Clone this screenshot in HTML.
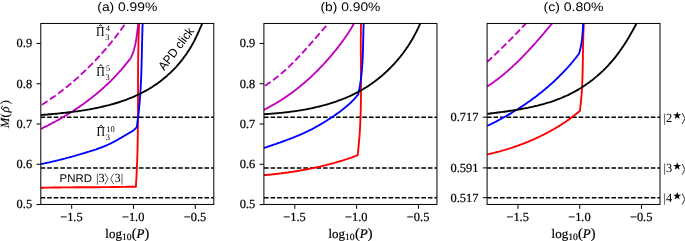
<!DOCTYPE html>
<html><head><meta charset="utf-8"><style>
html,body{margin:0;padding:0;background:#fff;}
body{width:685px;height:241px;overflow:hidden;font-family:"Liberation Sans",sans-serif;}
svg{display:block;will-change:transform;}
</style></head><body>
<svg xmlns="http://www.w3.org/2000/svg" width="685" height="241" viewBox="0 0 685 241" text-rendering="geometricPrecision"><defs><clipPath id="c0"><rect x="40.80" y="23.30" width="173.00" height="181.25"/></clipPath><clipPath id="c1"><rect x="263.90" y="23.30" width="173.05" height="181.25"/></clipPath><clipPath id="c2"><rect x="487.10" y="23.30" width="172.90" height="181.25"/></clipPath></defs><rect width="685" height="241" fill="#fff"/><g clip-path="url(#c0)"><path d="M40.80,117.15 H213.80" stroke="#000" stroke-width="1.45" stroke-dasharray="4.6 1.955" stroke-dashoffset="0.17" fill="none"/><path d="M40.80,167.90 H213.80" stroke="#000" stroke-width="1.45" stroke-dasharray="4.6 1.955" stroke-dashoffset="0.17" fill="none"/><path d="M40.80,197.70 H213.80" stroke="#000" stroke-width="1.45" stroke-dasharray="4.6 1.955" stroke-dashoffset="0.17" fill="none"/><path d="M40.8,187.7 41.6,187.7 42.4,187.7 43.2,187.7 44.0,187.7 44.8,187.6 45.6,187.6 46.4,187.6 47.2,187.6 48.0,187.6 48.8,187.6 49.6,187.6 50.4,187.6 51.2,187.6 52.0,187.5 52.8,187.5 53.6,187.5 54.4,187.5 55.2,187.5 56.0,187.5 56.7,187.5 57.5,187.5 58.3,187.5 59.1,187.5 59.9,187.5 60.7,187.5 61.5,187.4 62.3,187.4 63.1,187.4 63.9,187.4 64.7,187.4 65.5,187.4 66.3,187.4 67.1,187.4 67.9,187.4 68.7,187.4 69.5,187.4 70.3,187.4 71.1,187.4 71.9,187.4 72.7,187.4 73.5,187.3 74.3,187.3 75.1,187.3 75.9,187.3 76.7,187.3 77.5,187.3 78.3,187.3 79.1,187.3 79.9,187.3 80.7,187.3 81.5,187.3 82.3,187.3 83.1,187.3 83.9,187.3 84.7,187.3 85.5,187.3 86.3,187.3 87.1,187.2 87.9,187.2 88.6,187.2 89.4,187.2 90.2,187.2 91.0,187.2 91.8,187.2 92.6,187.2 93.4,187.2 94.2,187.2 95.0,187.2 95.8,187.2 96.6,187.2 97.4,187.2 98.2,187.2 99.0,187.2 99.8,187.2 100.6,187.1 101.4,187.1 102.2,187.1 103.0,187.1 103.8,187.1 104.6,187.1 105.4,187.1 106.2,187.1 107.0,187.1 107.8,187.1 108.6,187.1 109.4,187.1 110.2,187.1 111.0,187.0 111.8,187.0 112.6,187.0 113.4,187.0 114.2,187.0 115.0,187.0 115.8,187.0 116.6,187.0 117.4,187.0 118.2,187.0 119.0,187.0 119.8,186.9 120.5,186.9 121.3,186.9 122.1,186.9 122.9,186.9 123.7,186.9 124.5,186.9 125.3,186.9 126.1,186.9 126.9,186.8 127.7,186.8 128.5,186.8 129.3,186.8 130.1,186.8 130.9,186.8 131.7,186.8 132.5,186.8 133.3,186.7 134.1,186.7 134.9,186.7 135.7,186.7 L135.9,186.7 136.0,185.3 136.0,183.9 136.1,182.5 136.2,181.1 136.3,179.7 136.4,178.3 136.5,176.9 136.5,175.5 136.6,174.1 136.7,172.7 136.7,171.3 136.8,169.9 136.9,168.5 136.9,167.1 137.0,165.7 137.0,164.3 137.1,162.9 137.2,161.5 137.2,160.1 137.2,158.7 137.3,157.3 137.3,155.9 137.4,154.5 137.4,153.1 137.5,151.7 137.5,150.3 137.5,148.9 137.6,147.5 137.6,146.1 137.6,144.7 137.6,143.3 137.7,141.9 137.7,140.5 137.7,139.1 137.7,137.7 137.8,136.3 137.8,134.9 137.8,133.5 137.8,132.1 137.8,130.7 137.9,129.3 137.9,127.9 137.9,126.5 137.9,125.1 137.9,123.7 137.9,122.3 137.9,120.9 137.9,119.5 137.9,118.1 137.9,116.7 138.0,115.3 138.0,113.9 138.0,112.5 138.0,111.1 138.0,109.7 138.0,108.3 138.0,106.9 138.0,105.5 138.0,104.1 138.0,102.7 138.0,101.3 138.0,99.9 138.0,98.5 138.0,97.1 138.0,95.7 138.0,94.3 138.0,92.9 138.0,91.5 138.0,90.1 138.0,88.7 138.0,87.3 138.0,85.9 138.0,84.5 138.0,83.1 138.0,81.7 138.0,80.3 138.0,78.8 138.0,77.4 138.0,76.0 138.1,74.6 138.1,73.2 138.1,71.8 138.1,70.4 138.1,69.0 138.1,67.6 138.1,66.2 138.1,64.8 138.1,63.4 138.1,62.0 138.2,60.6 138.2,59.2 138.2,57.8 138.2,56.4 138.2,55.0 138.3,53.6 138.3,52.2 138.3,50.8 138.3,49.4 138.4,48.0 138.4,46.6 138.4,45.2 138.4,43.8 138.5,42.4 138.5,41.0 138.5,39.6 138.6,38.2 138.6,36.8 138.7,35.4 138.7,34.0 138.8,32.6 138.8,31.2 138.9,29.8 138.9,28.4 139.0,27.0 139.0,25.6 139.1,24.2 139.1,22.8 139.2,21.4 139.3,20.0" stroke="#ff0000" stroke-width="1.87" fill="none" stroke-linejoin="round"/><path d="M40.8,164.1 41.7,163.9 42.5,163.8 43.4,163.6 44.2,163.4 45.1,163.2 45.9,163.0 46.8,162.9 47.6,162.7 48.5,162.5 49.3,162.3 50.2,162.1 51.0,161.9 51.9,161.7 52.7,161.5 53.6,161.3 54.4,161.1 55.3,160.9 56.1,160.7 57.0,160.5 57.8,160.3 58.7,160.1 59.5,159.9 60.3,159.7 61.2,159.5 62.0,159.3 62.9,159.0 63.7,158.8 64.6,158.6 65.4,158.4 66.2,158.2 67.1,157.9 67.9,157.7 68.8,157.5 69.6,157.3 70.4,157.0 71.3,156.8 72.1,156.6 72.9,156.3 73.8,156.1 74.6,155.9 75.5,155.6 76.3,155.4 77.1,155.2 78.0,154.9 78.8,154.7 79.6,154.4 80.5,154.2 81.3,153.9 82.1,153.7 83.0,153.5 83.8,153.2 84.6,153.0 85.5,152.7 86.3,152.5 87.1,152.2 88.0,151.9 88.8,151.7 89.6,151.4 90.5,151.2 91.3,150.9 92.1,150.6 93.0,150.4 93.8,150.1 94.6,149.8 95.4,149.6 96.3,149.3 97.1,149.0 97.9,148.7 98.7,148.4 99.5,148.1 100.3,147.8 101.2,147.5 102.0,147.2 102.8,146.9 103.6,146.6 104.4,146.2 105.2,145.9 106.0,145.6 106.8,145.2 107.6,144.9 108.4,144.5 109.1,144.1 109.9,143.8 110.7,143.4 111.5,143.0 112.3,142.6 113.0,142.2 113.8,141.8 114.6,141.4 115.3,141.0 116.1,140.6 116.9,140.2 117.6,139.7 118.4,139.3 119.1,138.9 119.9,138.4 120.6,138.0 121.4,137.6 122.1,137.1 122.9,136.7 123.6,136.3 124.4,135.8 125.1,135.4 125.9,134.9 126.6,134.5 127.4,134.0 128.1,133.6 128.9,133.2 129.6,132.7 130.4,132.3 131.1,131.8 131.9,131.4 132.6,130.9 133.3,130.4 134.0,129.9 134.7,129.3 135.3,128.8 135.9,128.1 136.5,127.5 L136.7,127.4 136.8,126.5 136.9,125.6 137.1,124.7 137.2,123.8 137.3,122.9 137.5,122.1 137.6,121.2 137.7,120.3 137.8,119.4 137.9,118.5 138.0,117.6 138.2,116.7 138.3,115.8 138.4,114.9 138.5,114.0 138.6,113.1 138.7,112.2 138.8,111.3 138.9,110.4 139.0,109.5 139.1,108.6 139.1,107.7 139.2,106.8 139.3,105.9 139.4,105.0 139.5,104.1 139.6,103.2 139.6,102.3 139.7,101.4 139.8,100.5 139.9,99.6 139.9,98.7 140.0,97.8 140.1,96.9 140.1,96.0 140.2,95.1 140.3,94.2 140.3,93.3 140.4,92.4 140.4,91.5 140.5,90.6 140.5,89.7 140.6,88.8 140.6,87.8 140.7,86.9 140.7,86.0 140.8,85.1 140.8,84.2 140.9,83.3 140.9,82.4 141.0,81.5 141.0,80.6 141.0,79.7 141.1,78.8 141.1,77.9 141.2,77.0 141.2,76.1 141.2,75.2 141.3,74.3 141.3,73.4 141.3,72.5 141.4,71.6 141.4,70.7 141.4,69.8 141.4,68.9 141.5,68.0 141.5,67.0 141.5,66.1 141.6,65.2 141.6,64.3 141.6,63.4 141.6,62.5 141.6,61.6 141.7,60.7 141.7,59.8 141.7,58.9 141.7,58.0 141.8,57.1 141.8,56.2 141.8,55.3 141.8,54.4 141.8,53.5 141.9,52.6 141.9,51.7 141.9,50.8 141.9,49.8 141.9,48.9 142.0,48.0 142.0,47.1 142.0,46.2 142.0,45.3 142.0,44.4 142.1,43.5 142.1,42.6 142.1,41.7 142.1,40.8 142.2,39.9 142.2,39.0 142.2,38.1 142.2,37.2 142.2,36.3 142.3,35.4 142.3,34.5 142.3,33.6 142.3,32.7 142.4,31.8 142.4,30.8 142.4,29.9 142.4,29.0 142.5,28.1 142.5,27.2 142.5,26.3 142.6,25.4 142.6,24.5 142.6,23.6 142.6,22.7 142.7,21.8 142.7,20.9 142.8,20.0" stroke="#0000ff" stroke-width="1.87" fill="none" stroke-linejoin="round"/><path d="M40.8,128.9 41.7,128.5 42.5,128.1 43.4,127.6 44.2,127.2 45.1,126.8 46.0,126.4 46.8,125.9 47.7,125.5 48.5,125.1 49.4,124.6 50.2,124.2 51.1,123.7 51.9,123.3 52.8,122.8 53.6,122.4 54.5,121.9 55.3,121.5 56.2,121.0 57.0,120.5 57.9,120.1 58.7,119.6 59.5,119.1 60.4,118.7 61.2,118.2 62.0,117.7 62.9,117.2 63.7,116.7 64.5,116.2 65.3,115.7 66.2,115.3 67.0,114.8 67.8,114.3 68.6,113.7 69.4,113.2 70.3,112.7 71.1,112.2 71.9,111.7 72.7,111.2 73.5,110.7 74.3,110.1 75.1,109.6 75.9,109.1 76.7,108.6 77.5,108.0 78.3,107.5 79.1,106.9 79.9,106.4 80.7,105.8 81.5,105.3 82.2,104.7 83.0,104.2 83.8,103.6 84.6,103.1 85.4,102.5 86.1,101.9 86.9,101.4 87.7,100.8 88.4,100.2 89.2,99.6 90.0,99.0 90.7,98.5 91.5,97.9 92.2,97.3 93.0,96.7 93.7,96.1 94.5,95.5 95.2,94.9 96.0,94.3 96.7,93.7 97.4,93.0 98.2,92.4 98.9,91.8 99.6,91.2 100.3,90.6 101.1,89.9 101.8,89.3 102.5,88.7 103.2,88.0 103.9,87.4 104.6,86.7 105.3,86.1 106.0,85.4 106.7,84.8 107.4,84.1 108.1,83.5 108.8,82.8 109.5,82.1 110.2,81.5 110.9,80.8 111.6,80.1 112.2,79.4 112.9,78.7 113.6,78.1 114.3,77.4 114.9,76.7 115.6,76.0 116.2,75.3 116.9,74.6 117.5,73.9 118.2,73.2 118.8,72.4 119.5,71.7 120.1,71.0 120.8,70.3 121.4,69.6 122.0,68.8 122.6,68.1 123.3,67.4 123.9,66.6 124.5,65.9 125.1,65.1 125.7,64.4 126.3,63.6 126.9,62.9 127.5,62.1 128.1,61.4 128.7,60.6 129.3,59.8 129.9,59.1 L130.0,59.2 130.2,58.9 130.4,58.6 130.5,58.3 130.7,58.0 130.8,57.7 131.0,57.4 131.1,57.1 131.3,56.8 131.4,56.5 131.6,56.2 131.7,55.8 131.8,55.5 132.0,55.2 132.1,54.9 132.2,54.6 132.4,54.3 132.5,54.0 132.6,53.7 132.7,53.3 132.9,53.0 133.0,52.7 133.1,52.4 133.2,52.1 133.3,51.7 133.4,51.4 133.5,51.1 133.6,50.8 133.7,50.5 133.8,50.1 133.9,49.8 134.0,49.5 134.1,49.2 134.2,48.8 134.3,48.5 134.4,48.2 134.5,47.9 134.6,47.5 134.7,47.2 134.7,46.9 134.8,46.6 134.9,46.2 135.0,45.9 135.1,45.6 135.1,45.2 135.2,44.9 135.3,44.6 135.3,44.2 135.4,43.9 135.5,43.6 135.6,43.2 135.6,42.9 135.7,42.6 135.7,42.2 135.8,41.9 135.9,41.6 135.9,41.2 136.0,40.9 136.0,40.6 136.1,40.2 136.2,39.9 136.2,39.6 136.3,39.2 136.3,38.9 136.4,38.6 136.4,38.2 136.5,37.9 136.5,37.5 136.6,37.2 136.6,36.9 136.7,36.5 136.7,36.2 136.8,35.9 136.8,35.5 136.9,35.2 136.9,34.8 136.9,34.5 137.0,34.2 137.0,33.8 137.1,33.5 137.1,33.1 137.2,32.8 137.2,32.5 137.2,32.1 137.3,31.8 137.3,31.5 137.4,31.1 137.4,30.8 137.4,30.4 137.5,30.1 137.5,29.8 137.6,29.4 137.6,29.1 137.6,28.7 137.7,28.4 137.7,28.1 137.8,27.7 137.8,27.4 137.9,27.1 137.9,26.7 137.9,26.4 138.0,26.0 138.0,25.7 138.1,25.4 138.1,25.0 138.1,24.7 138.2,24.4 138.2,24.0 138.3,23.7 138.3,23.4 138.4,23.0 138.4,22.7 138.5,22.4 138.5,22.0 138.6,21.7 138.6,21.4 138.7,21.0 138.7,20.7 138.8,20.4 138.8,20.0" stroke="#bf00bf" stroke-width="1.87" fill="none" stroke-linejoin="round"/><path d="M40.9,105.3 41.8,104.8 42.6,104.3 43.5,103.7 44.3,103.2 45.2,102.6 46.0,102.0 46.9,101.5 47.7,100.9 48.6,100.3 49.4,99.8 50.3,99.2 51.1,98.6 51.9,98.0 52.8,97.4 53.6,96.9 54.4,96.3 55.3,95.7 56.1,95.1 56.9,94.5 57.7,93.9 58.6,93.3 59.4,92.6 60.2,92.0 61.0,91.4 61.8,90.8 62.6,90.2 63.4,89.5 64.2,88.9 65.0,88.3 65.8,87.7 66.6,87.0 67.4,86.4 68.2,85.7 69.0,85.1 69.8,84.4 70.6,83.8 71.3,83.1 72.1,82.5 72.9,81.8 73.7,81.1 74.5,80.5 75.2,79.8 76.0,79.1 76.8,78.4 77.5,77.8 78.3,77.1 79.0,76.4 79.8,75.7 80.5,75.0 81.3,74.3 82.0,73.6 82.8,72.9 83.5,72.2 84.3,71.5 85.0,70.8 85.8,70.1 86.5,69.4 87.2,68.7 88.0,68.0 88.7,67.3 89.4,66.5 90.1,65.8 90.8,65.1 91.6,64.4 92.3,63.6 93.0,62.9 93.7,62.2 94.4,61.4 95.1,60.7 95.8,60.0 96.5,59.2 97.2,58.5 97.9,57.7 98.6,57.0 99.3,56.2 100.0,55.5 100.7,54.7 101.3,53.9 102.0,53.2 102.7,52.4 103.4,51.6 104.0,50.9 104.7,50.1 105.4,49.3 106.0,48.6 106.7,47.8 107.4,47.0 108.0,46.2 108.7,45.4 109.3,44.6 110.0,43.9 110.6,43.1 111.3,42.3 111.9,41.5 112.5,40.7 113.2,39.9 113.8,39.1 114.4,38.3 115.1,37.5 115.7,36.7 116.3,35.9 116.9,35.1 117.6,34.3 118.2,33.4 118.8,32.6 119.4,31.8 120.0,31.0 120.6,30.2 121.2,29.4 121.8,28.5 122.4,27.7 123.0,26.9 123.6,26.1 124.2,25.2 124.8,24.4 125.3,23.6 125.9,22.7 126.5,21.9 127.1,21.1" stroke="#bf00bf" stroke-width="1.87" fill="none" stroke-linejoin="round" stroke-dasharray="6.9 3.0" stroke-dashoffset="-1.00"/><path d="M40.9,115.0 42.5,114.9 44.2,114.7 45.8,114.6 47.5,114.5 49.1,114.3 50.8,114.2 52.5,114.0 54.1,113.9 55.8,113.7 57.5,113.6 59.2,113.4 60.8,113.2 62.5,113.0 64.2,112.9 65.9,112.7 67.6,112.5 69.3,112.3 71.0,112.1 72.7,111.9 74.4,111.6 76.1,111.4 77.8,111.2 79.5,110.9 81.2,110.7 82.9,110.4 84.6,110.2 86.3,109.9 88.0,109.6 89.7,109.3 91.3,109.0 93.0,108.7 94.7,108.3 96.4,108.0 98.1,107.7 99.8,107.3 101.4,106.9 103.1,106.5 104.8,106.1 106.5,105.7 108.1,105.3 109.8,104.9 111.4,104.4 113.1,104.0 114.7,103.5 116.3,103.0 118.0,102.5 119.6,102.0 121.2,101.4 122.8,100.9 124.4,100.3 126.0,99.8 127.6,99.2 129.2,98.5 130.7,97.9 132.3,97.3 133.9,96.6 135.4,95.9 137.0,95.2 138.5,94.5 140.0,93.8 141.5,93.0 143.0,92.2 144.5,91.4 146.0,90.6 147.4,89.8 148.9,89.0 150.3,88.1 151.8,87.2 153.2,86.3 154.6,85.3 156.0,84.4 157.4,83.4 158.7,82.4 160.1,81.4 161.4,80.4 162.8,79.3 164.1,78.3 165.4,77.2 166.7,76.1 167.9,74.9 169.2,73.8 170.4,72.6 171.6,71.5 172.8,70.3 174.0,69.1 175.2,67.8 176.4,66.6 177.5,65.3 178.6,64.0 179.7,62.8 180.8,61.4 181.9,60.1 182.9,58.8 183.9,57.4 184.9,56.0 185.9,54.7 186.9,53.3 187.8,51.8 188.8,50.4 189.7,49.0 190.6,47.5 191.4,46.1 192.3,44.6 193.1,43.1 193.9,41.6 194.7,40.0 195.4,38.5 196.2,37.0 196.9,35.4 197.6,33.9 198.3,32.3 199.0,30.8 199.7,29.2 200.4,27.7 201.1,26.1 201.7,24.5 202.4,23.0 203.1,21.4 203.7,19.9" stroke="#000000" stroke-width="1.87" fill="none" stroke-linejoin="round"/></g>
<rect x="40.80" y="23.45" width="173.00" height="181.00" fill="none" stroke="#000" stroke-width="1.00"/>
<path d="M71.69,204.55 V208.85" stroke="#000" stroke-width="1.00"/>
<text x="71.39" y="221.10" font-family="Liberation Serif" stroke="#000" stroke-width="0.22" font-size="12.40" text-anchor="middle">−1.5</text>
<path d="M133.48,204.55 V208.85" stroke="#000" stroke-width="1.00"/>
<text x="133.18" y="221.10" font-family="Liberation Serif" stroke="#000" stroke-width="0.22" font-size="12.40" text-anchor="middle">−1.0</text>
<path d="M195.26,204.55 V208.85" stroke="#000" stroke-width="1.00"/>
<text x="194.96" y="221.10" font-family="Liberation Serif" stroke="#000" stroke-width="0.22" font-size="12.40" text-anchor="middle">−0.5</text>
<text x="127.30000000000001" y="237.9" font-family="Liberation Serif" font-size="13.0" text-anchor="middle" stroke="#000" stroke-width="0.22">log<tspan font-size="9.6" dy="2.5">10</tspan><tspan dy="-2.5" font-size="14.4" dx="0.3">(</tspan><tspan font-style="italic">P</tspan><tspan font-size="14.4">)</tspan></text>
<text x="127.30" y="11.30" font-family="Liberation Sans" font-size="12.40" text-anchor="middle" textLength="60.00" lengthAdjust="spacingAndGlyphs">(a) 0.99%</text>
<path d="M36.50,204.55 H40.80" stroke="#000" stroke-width="1.00"/>
<text x="32.10" y="208.45" font-family="Liberation Serif" stroke="#000" stroke-width="0.22" font-size="12.40" text-anchor="end">0.5</text>
<path d="M36.50,164.27 H40.80" stroke="#000" stroke-width="1.00"/>
<text x="32.10" y="168.17" font-family="Liberation Serif" stroke="#000" stroke-width="0.22" font-size="12.40" text-anchor="end">0.6</text>
<path d="M36.50,123.99 H40.80" stroke="#000" stroke-width="1.00"/>
<text x="32.10" y="127.89" font-family="Liberation Serif" stroke="#000" stroke-width="0.22" font-size="12.40" text-anchor="end">0.7</text>
<path d="M36.50,83.72 H40.80" stroke="#000" stroke-width="1.00"/>
<text x="32.10" y="87.62" font-family="Liberation Serif" stroke="#000" stroke-width="0.22" font-size="12.40" text-anchor="end">0.8</text>
<path d="M36.50,43.44 H40.80" stroke="#000" stroke-width="1.00"/>
<text x="32.10" y="47.34" font-family="Liberation Serif" stroke="#000" stroke-width="0.22" font-size="12.40" text-anchor="end">0.9</text>
<g clip-path="url(#c1)"><path d="M263.90,117.15 H436.95" stroke="#000" stroke-width="1.45" stroke-dasharray="4.6 1.955" stroke-dashoffset="-0.13" fill="none"/><path d="M263.90,167.90 H436.95" stroke="#000" stroke-width="1.45" stroke-dasharray="4.6 1.955" stroke-dashoffset="-0.13" fill="none"/><path d="M263.90,197.70 H436.95" stroke="#000" stroke-width="1.45" stroke-dasharray="4.6 1.955" stroke-dashoffset="-0.13" fill="none"/><path d="M263.9,175.2 264.7,175.1 265.5,175.0 266.3,175.0 267.1,174.9 267.9,174.8 268.7,174.7 269.5,174.7 270.3,174.6 271.1,174.5 271.9,174.4 272.7,174.3 273.5,174.2 274.3,174.2 275.1,174.1 275.9,174.0 276.7,173.9 277.5,173.8 278.3,173.7 279.1,173.6 279.9,173.5 280.7,173.4 281.5,173.3 282.3,173.2 283.1,173.1 283.9,173.0 284.7,172.9 285.5,172.8 286.3,172.7 287.1,172.6 287.9,172.5 288.7,172.3 289.5,172.2 290.3,172.1 291.1,172.0 291.9,171.9 292.7,171.8 293.5,171.6 294.3,171.5 295.1,171.4 295.9,171.3 296.7,171.1 297.5,171.0 298.3,170.9 299.1,170.7 299.9,170.6 300.6,170.5 301.4,170.3 302.2,170.2 303.0,170.0 303.8,169.9 304.6,169.7 305.4,169.6 306.2,169.5 307.0,169.3 307.8,169.1 308.6,169.0 309.4,168.8 310.1,168.7 310.9,168.5 311.7,168.4 312.5,168.2 313.3,168.0 314.1,167.9 314.9,167.7 315.7,167.5 316.4,167.4 317.2,167.2 318.0,167.0 318.8,166.8 319.6,166.6 320.4,166.5 321.2,166.3 321.9,166.1 322.7,165.9 323.5,165.7 324.3,165.5 325.1,165.3 325.9,165.1 326.6,164.9 327.4,164.7 328.2,164.5 329.0,164.3 329.8,164.1 330.5,163.9 331.3,163.7 332.1,163.5 332.9,163.3 333.6,163.1 334.4,162.9 335.2,162.6 336.0,162.4 336.7,162.2 337.5,162.0 338.3,161.7 339.1,161.5 339.8,161.3 340.6,161.0 341.4,160.8 342.1,160.6 342.9,160.3 343.7,160.1 344.4,159.8 345.2,159.6 346.0,159.4 346.7,159.1 347.5,158.9 348.3,158.6 349.0,158.3 349.8,158.1 350.6,157.8 351.3,157.6 352.1,157.3 352.8,157.0 353.6,156.7 354.4,156.5 355.1,156.2 355.9,155.9 356.6,155.6 357.4,155.4 L357.6,155.4 357.7,154.3 357.9,153.2 358.0,152.0 358.1,150.9 358.2,149.8 358.4,148.6 358.5,147.5 358.6,146.4 358.7,145.2 358.8,144.1 358.9,143.0 359.0,141.8 359.1,140.7 359.2,139.6 359.3,138.4 359.4,137.3 359.5,136.2 359.6,135.0 359.6,133.9 359.7,132.8 359.8,131.6 359.9,130.5 359.9,129.3 360.0,128.2 360.1,127.1 360.1,125.9 360.2,124.8 360.2,123.7 360.3,122.5 360.3,121.4 360.4,120.3 360.4,119.1 360.5,118.0 360.5,116.8 360.6,115.7 360.6,114.6 360.6,113.4 360.7,112.3 360.7,111.2 360.7,110.0 360.8,108.9 360.8,107.7 360.8,106.6 360.8,105.5 360.9,104.3 360.9,103.2 360.9,102.0 360.9,100.9 360.9,99.8 360.9,98.6 361.0,97.5 361.0,96.3 361.0,95.2 361.0,94.1 361.0,92.9 361.0,91.8 361.0,90.6 361.0,89.5 361.0,88.4 361.0,87.2 361.0,86.1 361.0,84.9 361.0,83.8 361.0,82.7 361.0,81.5 361.0,80.4 361.0,79.2 361.0,78.1 361.0,77.0 361.0,75.8 361.0,74.7 361.0,73.5 361.0,72.4 361.0,71.3 360.9,70.1 360.9,69.0 360.9,67.8 360.9,66.7 360.9,65.6 360.9,64.4 360.9,63.3 360.9,62.1 360.9,61.0 360.9,59.9 360.9,58.7 360.9,57.6 360.9,56.4 360.9,55.3 360.8,54.2 360.8,53.0 360.8,51.9 360.8,50.7 360.8,49.6 360.8,48.5 360.8,47.3 360.8,46.2 360.8,45.0 360.8,43.9 360.8,42.8 360.8,41.6 360.8,40.5 360.8,39.3 360.8,38.2 360.8,37.1 360.8,35.9 360.9,34.8 360.9,33.7 360.9,32.5 360.9,31.4 360.9,30.2 360.9,29.1 360.9,28.0 360.9,26.8 361.0,25.7 361.0,24.6 361.0,23.4 361.0,22.3 361.1,21.1 361.1,20.0" stroke="#ff0000" stroke-width="1.87" fill="none" stroke-linejoin="round"/><path d="M263.9,148.0 264.8,147.7 265.7,147.4 266.5,147.1 267.4,146.8 268.3,146.5 269.2,146.2 270.0,145.9 270.9,145.6 271.8,145.3 272.7,145.0 273.5,144.7 274.4,144.4 275.3,144.1 276.2,143.8 277.0,143.5 277.9,143.2 278.8,142.9 279.7,142.6 280.5,142.3 281.4,142.0 282.3,141.7 283.2,141.3 284.0,141.0 284.9,140.7 285.8,140.4 286.6,140.1 287.5,139.7 288.4,139.4 289.2,139.1 290.1,138.8 291.0,138.4 291.8,138.1 292.7,137.8 293.6,137.4 294.4,137.1 295.3,136.7 296.1,136.4 297.0,136.0 297.8,135.7 298.7,135.3 299.5,135.0 300.4,134.6 301.2,134.2 302.1,133.9 302.9,133.5 303.8,133.1 304.6,132.7 305.5,132.3 306.3,131.9 307.1,131.5 308.0,131.1 308.8,130.7 309.6,130.3 310.4,129.9 311.3,129.5 312.1,129.1 312.9,128.7 313.7,128.2 314.5,127.8 315.3,127.3 316.1,126.9 316.9,126.4 317.7,126.0 318.5,125.5 319.3,125.1 320.1,124.6 320.9,124.1 321.7,123.7 322.5,123.2 323.3,122.7 324.1,122.2 324.9,121.7 325.7,121.3 326.5,120.8 327.2,120.3 328.0,119.8 328.8,119.3 329.6,118.8 330.3,118.2 331.1,117.7 331.9,117.2 332.6,116.7 333.4,116.2 334.2,115.7 334.9,115.1 335.7,114.6 336.5,114.1 337.2,113.5 338.0,113.0 338.7,112.5 339.5,111.9 340.2,111.4 341.0,110.8 341.7,110.2 342.4,109.7 343.2,109.1 343.9,108.5 344.6,108.0 345.3,107.4 346.0,106.8 346.7,106.2 347.5,105.6 348.1,105.0 348.8,104.4 349.5,103.8 350.2,103.1 350.9,102.5 351.5,101.9 352.2,101.2 352.8,100.6 353.5,99.9 354.1,99.2 354.7,98.5 355.3,97.9 355.9,97.2 356.5,96.5 357.1,95.7 357.7,95.0 358.3,94.3 L358.2,94.2 358.3,93.6 358.5,93.0 358.6,92.4 358.8,91.7 358.9,91.1 359.0,90.5 359.1,89.9 359.3,89.3 359.4,88.7 359.5,88.1 359.6,87.4 359.7,86.8 359.8,86.2 359.9,85.6 360.0,85.0 360.1,84.4 360.2,83.7 360.3,83.1 360.4,82.5 360.5,81.9 360.6,81.3 360.7,80.7 360.8,80.0 360.9,79.4 361.0,78.8 361.0,78.2 361.1,77.6 361.2,76.9 361.3,76.3 361.3,75.7 361.4,75.1 361.5,74.4 361.5,73.8 361.6,73.2 361.7,72.6 361.7,72.0 361.8,71.3 361.8,70.7 361.9,70.1 361.9,69.5 362.0,68.8 362.0,68.2 362.1,67.6 362.1,67.0 362.2,66.3 362.2,65.7 362.3,65.1 362.3,64.5 362.4,63.8 362.4,63.2 362.4,62.6 362.5,62.0 362.5,61.3 362.5,60.7 362.6,60.1 362.6,59.5 362.6,58.8 362.7,58.2 362.7,57.6 362.7,57.0 362.7,56.3 362.8,55.7 362.8,55.1 362.8,54.5 362.8,53.8 362.9,53.2 362.9,52.6 362.9,51.9 362.9,51.3 362.9,50.7 363.0,50.1 363.0,49.4 363.0,48.8 363.0,48.2 363.0,47.6 363.0,46.9 363.1,46.3 363.1,45.7 363.1,45.0 363.1,44.4 363.1,43.8 363.1,43.2 363.2,42.5 363.2,41.9 363.2,41.3 363.2,40.7 363.2,40.0 363.2,39.4 363.2,38.8 363.2,38.1 363.3,37.5 363.3,36.9 363.3,36.3 363.3,35.6 363.3,35.0 363.3,34.4 363.3,33.8 363.4,33.1 363.4,32.5 363.4,31.9 363.4,31.3 363.4,30.6 363.4,30.0 363.5,29.4 363.5,28.8 363.5,28.1 363.5,27.5 363.5,26.9 363.6,26.2 363.6,25.6 363.6,25.0 363.6,24.4 363.7,23.7 363.7,23.1 363.7,22.5 363.7,21.9 363.8,21.3 363.8,20.6 363.8,20.0" stroke="#0000ff" stroke-width="1.87" fill="none" stroke-linejoin="round"/><path d="M263.8,109.8 264.8,109.3 265.8,108.8 266.7,108.3 267.7,107.8 268.7,107.3 269.7,106.7 270.7,106.2 271.6,105.7 272.6,105.2 273.5,104.6 274.5,104.1 275.4,103.5 276.4,103.0 277.3,102.4 278.3,101.9 279.2,101.3 280.1,100.7 281.1,100.1 282.0,99.5 282.9,98.9 283.8,98.3 284.7,97.7 285.6,97.1 286.5,96.5 287.4,95.9 288.3,95.3 289.2,94.6 290.1,94.0 291.0,93.4 291.9,92.7 292.8,92.1 293.6,91.4 294.5,90.8 295.4,90.1 296.2,89.4 297.1,88.8 297.9,88.1 298.8,87.4 299.6,86.7 300.5,86.0 301.3,85.3 302.2,84.6 303.0,83.9 303.8,83.2 304.7,82.5 305.5,81.8 306.3,81.1 307.1,80.4 307.9,79.6 308.7,78.9 309.6,78.2 310.4,77.4 311.2,76.7 311.9,75.9 312.7,75.2 313.5,74.4 314.3,73.7 315.1,72.9 315.9,72.1 316.7,71.4 317.4,70.6 318.2,69.8 319.0,69.0 319.7,68.2 320.5,67.4 321.2,66.7 322.0,65.9 322.8,65.1 323.5,64.3 324.2,63.5 325.0,62.6 325.7,61.8 326.5,61.0 327.2,60.2 327.9,59.4 328.6,58.6 329.4,57.7 330.1,56.9 330.8,56.1 331.5,55.2 332.2,54.4 332.9,53.5 333.6,52.7 334.3,51.8 335.0,51.0 335.7,50.1 336.4,49.3 337.1,48.4 337.7,47.6 338.4,46.7 339.1,45.8 339.7,44.9 340.4,44.1 341.1,43.2 341.7,42.3 342.4,41.4 343.0,40.5 343.6,39.7 344.3,38.8 344.9,37.9 345.5,37.0 346.1,36.1 346.8,35.2 347.4,34.3 348.0,33.4 348.6,32.4 349.2,31.5 349.7,30.6 350.3,29.7 350.9,28.8 351.5,27.8 352.0,26.9 352.6,26.0 353.1,25.0 353.6,24.1 354.1,23.1 354.6,22.1 355.0,21.1 355.5,20.1" stroke="#bf00bf" stroke-width="1.87" fill="none" stroke-linejoin="round"/><path d="M263.9,86.4 264.6,86.0 265.3,85.5 265.9,85.1 266.6,84.7 267.3,84.2 267.9,83.8 268.6,83.3 269.3,82.9 269.9,82.4 270.6,81.9 271.2,81.5 271.9,81.0 272.5,80.5 273.2,80.1 273.8,79.6 274.4,79.1 275.1,78.6 275.7,78.1 276.3,77.6 277.0,77.1 277.6,76.6 278.2,76.1 278.8,75.6 279.4,75.1 280.0,74.6 280.7,74.1 281.3,73.6 281.9,73.1 282.5,72.6 283.1,72.0 283.7,71.5 284.3,71.0 284.9,70.4 285.5,69.9 286.0,69.4 286.6,68.8 287.2,68.3 287.8,67.8 288.4,67.2 289.0,66.7 289.5,66.1 290.1,65.6 290.7,65.0 291.3,64.4 291.8,63.9 292.4,63.3 293.0,62.8 293.5,62.2 294.1,61.6 294.7,61.1 295.2,60.5 295.8,59.9 296.3,59.3 296.9,58.8 297.4,58.2 298.0,57.6 298.5,57.0 299.1,56.5 299.6,55.9 300.2,55.3 300.7,54.7 301.3,54.1 301.8,53.5 302.4,52.9 302.9,52.3 303.4,51.8 304.0,51.2 304.5,50.6 305.1,50.0 305.6,49.4 306.1,48.8 306.7,48.2 307.2,47.6 307.7,47.0 308.3,46.4 308.8,45.8 309.3,45.2 309.9,44.6 310.4,44.0 310.9,43.4 311.4,42.8 312.0,42.2 312.5,41.6 313.0,41.0 313.6,40.4 314.1,39.8 314.6,39.2 315.1,38.6 315.7,38.0 316.2,37.4 316.7,36.8 317.2,36.2 317.8,35.5 318.3,34.9 318.8,34.3 319.3,33.7 319.9,33.1 320.4,32.5 320.9,31.9 321.4,31.3 322.0,30.7 322.5,30.1 323.0,29.5 323.6,28.9 324.1,28.3 324.6,27.7 325.1,27.1 325.7,26.5 326.2,25.9 326.7,25.3 327.3,24.8 327.8,24.2 328.3,23.6 328.9,23.0 329.4,22.4 329.9,21.8 330.5,21.2 331.0,20.6 331.5,20.0" stroke="#bf00bf" stroke-width="1.87" fill="none" stroke-linejoin="round" stroke-dasharray="6.9 3.0" stroke-dashoffset="-1.20"/><path d="M264.0,114.2 265.6,114.1 267.2,114.0 268.8,113.9 270.4,113.8 272.0,113.6 273.6,113.5 275.2,113.4 276.9,113.2 278.5,113.1 280.1,112.9 281.7,112.8 283.4,112.6 285.0,112.4 286.6,112.2 288.3,112.1 289.9,111.8 291.5,111.6 293.2,111.4 294.8,111.2 296.5,110.9 298.1,110.7 299.7,110.4 301.4,110.2 303.0,109.9 304.6,109.6 306.3,109.3 307.9,109.0 309.5,108.7 311.1,108.3 312.8,108.0 314.4,107.6 316.0,107.2 317.6,106.9 319.2,106.5 320.8,106.1 322.4,105.7 324.0,105.2 325.6,104.8 327.2,104.3 328.8,103.9 330.4,103.4 332.0,102.9 333.5,102.4 335.1,101.8 336.7,101.3 338.2,100.7 339.8,100.2 341.3,99.6 342.8,99.0 344.4,98.4 345.9,97.8 347.4,97.1 348.9,96.5 350.4,95.8 351.9,95.1 353.3,94.4 354.8,93.7 356.3,92.9 357.7,92.2 359.1,91.4 360.6,90.6 362.0,89.8 363.4,89.0 364.8,88.1 366.2,87.3 367.6,86.4 368.9,85.5 370.3,84.6 371.6,83.7 372.9,82.7 374.3,81.8 375.6,80.8 376.9,79.8 378.2,78.8 379.4,77.8 380.7,76.7 381.9,75.7 383.2,74.6 384.4,73.5 385.6,72.4 386.8,71.3 388.0,70.2 389.2,69.0 390.3,67.9 391.5,66.7 392.6,65.5 393.7,64.3 394.8,63.1 395.9,61.9 397.0,60.7 398.1,59.4 399.1,58.1 400.2,56.9 401.2,55.6 402.2,54.3 403.2,53.0 404.2,51.6 405.1,50.3 406.1,49.0 407.0,47.6 408.0,46.2 408.9,44.8 409.7,43.4 410.6,42.0 411.5,40.6 412.3,39.2 413.1,37.8 413.9,36.3 414.7,34.9 415.5,33.4 416.3,31.9 417.0,30.4 417.8,28.9 418.5,27.4 419.2,25.9 419.8,24.4 420.5,22.9 421.1,21.3 421.8,19.8" stroke="#000000" stroke-width="1.87" fill="none" stroke-linejoin="round"/></g>
<rect x="263.90" y="23.45" width="173.05" height="181.00" fill="none" stroke="#000" stroke-width="1.00"/>
<path d="M294.80,204.55 V208.85" stroke="#000" stroke-width="1.00"/>
<text x="294.50" y="221.10" font-family="Liberation Serif" stroke="#000" stroke-width="0.22" font-size="12.40" text-anchor="middle">−1.5</text>
<path d="M356.61,204.55 V208.85" stroke="#000" stroke-width="1.00"/>
<text x="356.31" y="221.10" font-family="Liberation Serif" stroke="#000" stroke-width="0.22" font-size="12.40" text-anchor="middle">−1.0</text>
<path d="M418.41,204.55 V208.85" stroke="#000" stroke-width="1.00"/>
<text x="418.11" y="221.10" font-family="Liberation Serif" stroke="#000" stroke-width="0.22" font-size="12.40" text-anchor="middle">−0.5</text>
<text x="350.42499999999995" y="237.9" font-family="Liberation Serif" font-size="13.0" text-anchor="middle" stroke="#000" stroke-width="0.22">log<tspan font-size="9.6" dy="2.5">10</tspan><tspan dy="-2.5" font-size="14.4" dx="0.3">(</tspan><tspan font-style="italic">P</tspan><tspan font-size="14.4">)</tspan></text>
<text x="350.42" y="11.30" font-family="Liberation Sans" font-size="12.40" text-anchor="middle" textLength="60.00" lengthAdjust="spacingAndGlyphs">(b) 0.90%</text>
<path d="M259.60,204.55 H263.90" stroke="#000" stroke-width="1.00"/>
<text x="255.20" y="208.45" font-family="Liberation Serif" stroke="#000" stroke-width="0.22" font-size="12.40" text-anchor="end">0.5</text>
<path d="M259.60,164.27 H263.90" stroke="#000" stroke-width="1.00"/>
<text x="255.20" y="168.17" font-family="Liberation Serif" stroke="#000" stroke-width="0.22" font-size="12.40" text-anchor="end">0.6</text>
<path d="M259.60,123.99 H263.90" stroke="#000" stroke-width="1.00"/>
<text x="255.20" y="127.89" font-family="Liberation Serif" stroke="#000" stroke-width="0.22" font-size="12.40" text-anchor="end">0.7</text>
<path d="M259.60,83.72 H263.90" stroke="#000" stroke-width="1.00"/>
<text x="255.20" y="87.62" font-family="Liberation Serif" stroke="#000" stroke-width="0.22" font-size="12.40" text-anchor="end">0.8</text>
<path d="M259.60,43.44 H263.90" stroke="#000" stroke-width="1.00"/>
<text x="255.20" y="47.34" font-family="Liberation Serif" stroke="#000" stroke-width="0.22" font-size="12.40" text-anchor="end">0.9</text>
<g clip-path="url(#c2)"><path d="M487.10,117.15 H660.00" stroke="#000" stroke-width="1.45" stroke-dasharray="4.6 1.955" stroke-dashoffset="0.17" fill="none"/><path d="M487.10,167.90 H660.00" stroke="#000" stroke-width="1.45" stroke-dasharray="4.6 1.955" stroke-dashoffset="0.17" fill="none"/><path d="M487.10,197.70 H660.00" stroke="#000" stroke-width="1.45" stroke-dasharray="4.6 1.955" stroke-dashoffset="0.17" fill="none"/><path d="M487.1,154.5 488.0,154.3 488.8,154.1 489.6,153.9 490.5,153.7 491.3,153.5 492.2,153.3 493.0,153.1 493.9,152.9 494.7,152.7 495.5,152.5 496.4,152.2 497.2,152.0 498.1,151.8 498.9,151.6 499.7,151.3 500.6,151.1 501.4,150.9 502.2,150.6 503.1,150.4 503.9,150.1 504.8,149.9 505.6,149.7 506.4,149.4 507.2,149.2 508.1,148.9 508.9,148.6 509.7,148.4 510.6,148.1 511.4,147.8 512.2,147.6 513.1,147.3 513.9,147.0 514.7,146.7 515.5,146.5 516.3,146.2 517.2,145.9 518.0,145.6 518.8,145.3 519.6,145.0 520.4,144.7 521.3,144.4 522.1,144.1 522.9,143.8 523.7,143.5 524.5,143.1 525.3,142.8 526.1,142.5 526.9,142.2 527.8,141.9 528.6,141.5 529.4,141.2 530.2,140.9 531.0,140.5 531.8,140.2 532.6,139.8 533.4,139.5 534.2,139.1 535.0,138.8 535.7,138.4 536.5,138.0 537.3,137.7 538.1,137.3 538.9,136.9 539.7,136.6 540.5,136.2 541.3,135.8 542.0,135.4 542.8,135.0 543.6,134.7 544.4,134.3 545.1,133.9 545.9,133.5 546.7,133.1 547.5,132.7 548.2,132.2 549.0,131.8 549.7,131.4 550.5,131.0 551.3,130.6 552.0,130.1 552.8,129.7 553.5,129.3 554.3,128.8 555.0,128.4 555.8,128.0 556.5,127.5 557.3,127.1 558.0,126.6 558.8,126.2 559.5,125.7 560.2,125.2 561.0,124.8 561.7,124.3 562.4,123.8 563.1,123.4 563.9,122.9 564.6,122.4 565.3,121.9 566.0,121.4 566.7,120.9 567.5,120.4 568.2,119.9 568.9,119.4 569.6,118.9 570.3,118.4 571.0,117.9 571.7,117.4 572.4,116.8 573.1,116.3 573.8,115.8 574.4,115.3 575.1,114.7 575.8,114.2 576.5,113.6 577.2,113.1 577.8,112.5 578.5,112.0 579.2,111.4 579.9,110.9 L579.9,110.8 580.0,110.0 580.1,109.3 580.2,108.5 580.3,107.8 580.4,107.0 580.4,106.3 580.5,105.5 580.6,104.7 580.7,104.0 580.8,103.2 580.9,102.5 580.9,101.7 581.0,100.9 581.1,100.2 581.2,99.4 581.2,98.7 581.3,97.9 581.4,97.1 581.4,96.4 581.5,95.6 581.6,94.9 581.6,94.1 581.7,93.3 581.7,92.6 581.8,91.8 581.8,91.0 581.9,90.3 581.9,89.5 582.0,88.8 582.0,88.0 582.0,87.2 582.1,86.5 582.1,85.7 582.2,84.9 582.2,84.2 582.2,83.4 582.3,82.7 582.3,81.9 582.3,81.1 582.4,80.4 582.4,79.6 582.4,78.8 582.4,78.1 582.5,77.3 582.5,76.6 582.5,75.8 582.5,75.0 582.6,74.3 582.6,73.5 582.6,72.7 582.6,72.0 582.6,71.2 582.7,70.4 582.7,69.7 582.7,68.9 582.7,68.1 582.7,67.4 582.7,66.6 582.8,65.9 582.8,65.1 582.8,64.3 582.8,63.6 582.8,62.8 582.8,62.0 582.8,61.3 582.8,60.5 582.9,59.7 582.9,59.0 582.9,58.2 582.9,57.4 582.9,56.7 582.9,55.9 582.9,55.2 582.9,54.4 582.9,53.6 582.9,52.9 583.0,52.1 583.0,51.3 583.0,50.6 583.0,49.8 583.0,49.0 583.0,48.3 583.0,47.5 583.0,46.7 583.1,46.0 583.1,45.2 583.1,44.4 583.1,43.7 583.1,42.9 583.1,42.2 583.2,41.4 583.2,40.6 583.2,39.9 583.2,39.1 583.2,38.3 583.2,37.6 583.3,36.8 583.3,36.0 583.3,35.3 583.3,34.5 583.4,33.7 583.4,33.0 583.4,32.2 583.5,31.5 583.5,30.7 583.5,29.9 583.5,29.2 583.6,28.4 583.6,27.6 583.7,26.9 583.7,26.1 583.7,25.3 583.8,24.6 583.8,23.8 583.9,23.1 583.9,22.3 583.9,21.5 584.0,20.8 584.0,20.0" stroke="#ff0000" stroke-width="1.87" fill="none" stroke-linejoin="round"/><path d="M487.1,126.0 488.0,125.5 488.9,125.1 489.8,124.7 490.7,124.2 491.6,123.8 492.4,123.4 493.3,122.9 494.2,122.5 495.1,122.0 496.0,121.6 496.9,121.1 497.7,120.6 498.6,120.2 499.5,119.7 500.4,119.2 501.3,118.8 502.1,118.3 503.0,117.8 503.9,117.3 504.7,116.8 505.6,116.4 506.5,115.9 507.3,115.4 508.2,114.9 509.1,114.4 509.9,113.9 510.8,113.4 511.6,112.9 512.5,112.3 513.3,111.8 514.2,111.3 515.0,110.8 515.9,110.3 516.7,109.7 517.6,109.2 518.4,108.7 519.3,108.1 520.1,107.6 520.9,107.1 521.8,106.5 522.6,106.0 523.4,105.4 524.2,104.9 525.1,104.3 525.9,103.7 526.7,103.2 527.5,102.6 528.3,102.0 529.2,101.5 530.0,100.9 530.8,100.3 531.6,99.7 532.4,99.1 533.2,98.5 534.0,97.9 534.8,97.4 535.6,96.8 536.4,96.2 537.2,95.5 538.0,94.9 538.7,94.3 539.5,93.7 540.3,93.1 541.1,92.5 541.9,91.9 542.6,91.2 543.4,90.6 544.2,90.0 544.9,89.3 545.7,88.7 546.4,88.0 547.2,87.4 548.0,86.8 548.7,86.1 549.5,85.4 550.2,84.8 550.9,84.1 551.7,83.5 552.4,82.8 553.1,82.1 553.9,81.5 554.6,80.8 555.3,80.1 556.1,79.4 556.8,78.7 557.5,78.0 558.2,77.3 558.9,76.6 559.6,75.9 560.3,75.2 561.0,74.5 561.7,73.8 562.4,73.1 563.1,72.4 563.8,71.7 564.5,71.0 565.1,70.2 565.8,69.5 566.5,68.8 567.2,68.0 567.8,67.3 568.5,66.6 569.1,65.8 569.8,65.1 570.5,64.3 571.1,63.6 571.7,62.8 572.4,62.0 573.0,61.3 573.7,60.5 574.3,59.7 574.9,59.0 575.5,58.2 576.2,57.4 576.8,56.6 577.4,55.8 578.0,55.0 578.6,54.3 579.2,53.5 L579.1,53.4 579.2,53.1 579.3,52.9 579.4,52.6 579.4,52.3 579.5,52.0 579.6,51.8 579.7,51.5 579.7,51.2 579.8,50.9 579.9,50.7 580.0,50.4 580.0,50.1 580.1,49.8 580.2,49.6 580.2,49.3 580.3,49.0 580.4,48.7 580.4,48.4 580.5,48.2 580.6,47.9 580.6,47.6 580.7,47.3 580.7,47.1 580.8,46.8 580.9,46.5 580.9,46.2 581.0,45.9 581.0,45.7 581.1,45.4 581.1,45.1 581.2,44.8 581.2,44.6 581.3,44.3 581.3,44.0 581.4,43.7 581.4,43.4 581.5,43.2 581.5,42.9 581.5,42.6 581.6,42.3 581.6,42.0 581.7,41.8 581.7,41.5 581.7,41.2 581.8,40.9 581.8,40.6 581.9,40.4 581.9,40.1 581.9,39.8 582.0,39.5 582.0,39.2 582.0,39.0 582.1,38.7 582.1,38.4 582.1,38.1 582.2,37.8 582.2,37.5 582.2,37.3 582.2,37.0 582.3,36.7 582.3,36.4 582.3,36.1 582.4,35.9 582.4,35.6 582.4,35.3 582.4,35.0 582.5,34.7 582.5,34.4 582.5,34.2 582.5,33.9 582.5,33.6 582.6,33.3 582.6,33.0 582.6,32.7 582.6,32.5 582.7,32.2 582.7,31.9 582.7,31.6 582.7,31.3 582.7,31.0 582.8,30.8 582.8,30.5 582.8,30.2 582.8,29.9 582.8,29.6 582.8,29.3 582.9,29.1 582.9,28.8 582.9,28.5 582.9,28.2 582.9,27.9 582.9,27.6 583.0,27.4 583.0,27.1 583.0,26.8 583.0,26.5 583.0,26.2 583.0,25.9 583.1,25.7 583.1,25.4 583.1,25.1 583.1,24.8 583.1,24.5 583.1,24.2 583.2,24.0 583.2,23.7 583.2,23.4 583.2,23.1 583.2,22.8 583.2,22.5 583.3,22.3 583.3,22.0 583.3,21.7 583.3,21.4 583.3,21.1 583.3,20.8 583.4,20.6 583.4,20.3 583.4,20.0" stroke="#0000ff" stroke-width="1.87" fill="none" stroke-linejoin="round"/><path d="M487.1,86.6 487.8,86.2 488.4,85.7 489.1,85.3 489.8,84.8 490.4,84.4 491.1,83.9 491.8,83.4 492.4,83.0 493.1,82.5 493.7,82.1 494.4,81.6 495.0,81.1 495.6,80.6 496.3,80.1 496.9,79.7 497.6,79.2 498.2,78.7 498.8,78.2 499.5,77.7 500.1,77.2 500.7,76.7 501.3,76.2 502.0,75.7 502.6,75.2 503.2,74.7 503.8,74.2 504.4,73.7 505.1,73.1 505.7,72.6 506.3,72.1 506.9,71.6 507.5,71.1 508.1,70.5 508.7,70.0 509.3,69.5 509.9,68.9 510.5,68.4 511.1,67.9 511.7,67.3 512.3,66.8 512.9,66.2 513.4,65.7 514.0,65.1 514.6,64.6 515.2,64.0 515.8,63.5 516.4,62.9 516.9,62.4 517.5,61.8 518.1,61.2 518.7,60.7 519.2,60.1 519.8,59.6 520.4,59.0 520.9,58.4 521.5,57.8 522.1,57.3 522.6,56.7 523.2,56.1 523.8,55.5 524.3,55.0 524.9,54.4 525.4,53.8 526.0,53.2 526.5,52.6 527.1,52.1 527.6,51.5 528.2,50.9 528.7,50.3 529.3,49.7 529.8,49.1 530.4,48.5 530.9,47.9 531.5,47.3 532.0,46.7 532.5,46.1 533.1,45.5 533.6,45.0 534.2,44.4 534.7,43.8 535.2,43.2 535.8,42.6 536.3,42.0 536.8,41.3 537.4,40.7 537.9,40.1 538.4,39.5 539.0,38.9 539.5,38.3 540.0,37.7 540.5,37.1 541.1,36.5 541.6,35.9 542.1,35.3 542.6,34.7 543.2,34.1 543.7,33.5 544.2,32.9 544.7,32.2 545.2,31.6 545.8,31.0 546.3,30.4 546.8,29.8 547.3,29.2 547.8,28.6 548.3,28.0 548.9,27.4 549.4,26.7 549.9,26.1 550.4,25.5 550.9,24.9 551.4,24.3 551.9,23.7 552.5,23.1 553.0,22.5 553.5,21.9 554.0,21.2 554.5,20.6 555.0,20.0" stroke="#bf00bf" stroke-width="1.87" fill="none" stroke-linejoin="round"/><path d="M487.1,62.1 487.5,61.8 487.8,61.4 488.2,61.1 488.6,60.7 488.9,60.4 489.3,60.0 489.6,59.7 490.0,59.4 490.4,59.0 490.7,58.7 491.1,58.3 491.4,58.0 491.8,57.6 492.2,57.3 492.5,57.0 492.9,56.6 493.3,56.3 493.6,55.9 494.0,55.6 494.3,55.2 494.7,54.9 495.1,54.5 495.4,54.2 495.8,53.8 496.1,53.5 496.5,53.2 496.9,52.8 497.2,52.5 497.6,52.1 497.9,51.8 498.3,51.4 498.7,51.1 499.0,50.7 499.4,50.4 499.7,50.0 500.1,49.7 500.5,49.3 500.8,49.0 501.2,48.6 501.5,48.3 501.9,48.0 502.3,47.6 502.6,47.3 503.0,46.9 503.3,46.6 503.7,46.2 504.0,45.9 504.4,45.5 504.8,45.2 505.1,44.8 505.5,44.5 505.8,44.1 506.2,43.8 506.5,43.4 506.9,43.1 507.2,42.7 507.6,42.4 507.9,42.0 508.3,41.7 508.7,41.3 509.0,40.9 509.4,40.6 509.7,40.2 510.1,39.9 510.4,39.5 510.8,39.2 511.1,38.8 511.5,38.5 511.8,38.1 512.2,37.8 512.5,37.4 512.9,37.1 513.2,36.7 513.6,36.3 513.9,36.0 514.3,35.6 514.6,35.3 515.0,34.9 515.3,34.6 515.7,34.2 516.0,33.8 516.4,33.5 516.7,33.1 517.1,32.8 517.4,32.4 517.8,32.0 518.1,31.7 518.5,31.3 518.8,31.0 519.1,30.6 519.5,30.2 519.8,29.9 520.2,29.5 520.5,29.2 520.9,28.8 521.2,28.4 521.6,28.1 521.9,27.7 522.2,27.3 522.6,27.0 522.9,26.6 523.3,26.3 523.6,25.9 523.9,25.5 524.3,25.2 524.6,24.8 525.0,24.4 525.3,24.1 525.6,23.7 526.0,23.3 526.3,23.0 526.7,22.6 527.0,22.2 527.3,21.9 527.7,21.5 528.0,21.1 528.3,20.7 528.7,20.4 529.0,20.0" stroke="#bf00bf" stroke-width="1.87" fill="none" stroke-linejoin="round" stroke-dasharray="6.9 3.0" stroke-dashoffset="0.00"/><path d="M487.2,113.9 488.7,113.7 490.3,113.5 491.8,113.3 493.3,113.1 494.9,112.9 496.4,112.7 498.0,112.5 499.5,112.3 501.1,112.1 502.7,111.9 504.2,111.7 505.8,111.5 507.3,111.3 508.9,111.0 510.5,110.8 512.1,110.6 513.6,110.3 515.2,110.1 516.8,109.8 518.3,109.5 519.9,109.3 521.5,109.0 523.1,108.7 524.6,108.4 526.2,108.1 527.8,107.8 529.3,107.4 530.9,107.1 532.4,106.8 534.0,106.4 535.6,106.0 537.1,105.7 538.7,105.3 540.2,104.9 541.7,104.5 543.3,104.1 544.8,103.6 546.3,103.2 547.9,102.7 549.4,102.3 550.9,101.8 552.4,101.3 553.9,100.8 555.4,100.2 556.9,99.7 558.3,99.1 559.8,98.6 561.3,98.0 562.7,97.4 564.2,96.7 565.6,96.1 567.1,95.5 568.5,94.8 569.9,94.1 571.3,93.4 572.7,92.7 574.1,91.9 575.5,91.2 576.8,90.4 578.2,89.6 579.5,88.8 580.9,88.0 582.2,87.1 583.5,86.3 584.8,85.4 586.1,84.5 587.4,83.6 588.7,82.7 590.0,81.8 591.2,80.8 592.5,79.9 593.7,78.9 594.9,77.9 596.1,76.9 597.3,75.9 598.5,74.8 599.7,73.8 600.9,72.7 602.0,71.6 603.2,70.6 604.3,69.4 605.4,68.3 606.5,67.2 607.6,66.1 608.7,64.9 609.7,63.7 610.8,62.5 611.8,61.3 612.9,60.1 613.9,58.9 614.9,57.7 615.9,56.4 616.8,55.2 617.8,53.9 618.7,52.6 619.7,51.3 620.6,50.0 621.5,48.7 622.4,47.4 623.3,46.1 624.2,44.7 625.0,43.4 625.9,42.0 626.7,40.7 627.6,39.3 628.4,38.0 629.2,36.6 630.0,35.2 630.8,33.8 631.6,32.4 632.4,31.0 633.1,29.7 633.9,28.3 634.7,26.9 635.4,25.5 636.1,24.1 636.9,22.7 637.6,21.3 638.3,19.9" stroke="#000000" stroke-width="1.87" fill="none" stroke-linejoin="round"/></g>
<rect x="487.10" y="23.45" width="172.90" height="181.00" fill="none" stroke="#000" stroke-width="1.00"/>
<path d="M517.98,204.55 V208.85" stroke="#000" stroke-width="1.00"/>
<text x="517.68" y="221.10" font-family="Liberation Serif" stroke="#000" stroke-width="0.22" font-size="12.40" text-anchor="middle">−1.5</text>
<path d="M579.73,204.55 V208.85" stroke="#000" stroke-width="1.00"/>
<text x="579.43" y="221.10" font-family="Liberation Serif" stroke="#000" stroke-width="0.22" font-size="12.40" text-anchor="middle">−1.0</text>
<path d="M641.48,204.55 V208.85" stroke="#000" stroke-width="1.00"/>
<text x="641.18" y="221.10" font-family="Liberation Serif" stroke="#000" stroke-width="0.22" font-size="12.40" text-anchor="middle">−0.5</text>
<text x="573.55" y="237.9" font-family="Liberation Serif" font-size="13.0" text-anchor="middle" stroke="#000" stroke-width="0.22">log<tspan font-size="9.6" dy="2.5">10</tspan><tspan dy="-2.5" font-size="14.4" dx="0.3">(</tspan><tspan font-style="italic">P</tspan><tspan font-size="14.4">)</tspan></text>
<text x="573.55" y="11.30" font-family="Liberation Sans" font-size="12.40" text-anchor="middle" textLength="60.00" lengthAdjust="spacingAndGlyphs">(c) 0.80%</text>
<path d="M482.80,117.15 H487.10" stroke="#000" stroke-width="1.00"/>
<text x="478.40" y="121.05" font-family="Liberation Serif" stroke="#000" stroke-width="0.22" font-size="12.40" text-anchor="end">0.717</text>
<path d="M482.80,167.90 H487.10" stroke="#000" stroke-width="1.00"/>
<text x="478.40" y="171.80" font-family="Liberation Serif" stroke="#000" stroke-width="0.22" font-size="12.40" text-anchor="end">0.591</text>
<path d="M482.80,197.70 H487.10" stroke="#000" stroke-width="1.00"/>
<text x="478.40" y="201.60" font-family="Liberation Serif" stroke="#000" stroke-width="0.22" font-size="12.40" text-anchor="end">0.517</text>
<g transform="translate(9.2,113.2) rotate(-90)" font-family="Liberation Serif" font-size="12.4" stroke="#000" stroke-width="0.15"><text x="-14.8" font-style="italic" textLength="10.2" lengthAdjust="spacingAndGlyphs">M</text><text x="-4.4">(</text><text x="0.6" font-style="italic">ρ</text><text x="9.0">)</text><path d="M3.4,-6.2 Q5.4,-9.6 7.4,-6.2" stroke="#000" stroke-width="0.9" fill="none"/></g><text x="96.00" y="35.70" font-family="Liberation Serif" font-size="13.7" textLength="8.6" lengthAdjust="spacingAndGlyphs">Π</text><path d="M99.00,26.10 Q100.60,23.50 102.20,26.10" stroke="#000" stroke-width="1.0" fill="none"/><text x="105.30" y="39.70" font-family="Liberation Serif" font-size="8.5">3</text><text x="105.70" y="31.00" font-family="Liberation Serif" font-size="8.5">4</text><text x="96.30" y="75.60" font-family="Liberation Serif" font-size="13.7" textLength="8.6" lengthAdjust="spacingAndGlyphs">Π</text><path d="M99.30,66.00 Q100.90,63.40 102.50,66.00" stroke="#000" stroke-width="1.0" fill="none"/><text x="105.60" y="79.60" font-family="Liberation Serif" font-size="8.5">3</text><text x="106.00" y="70.90" font-family="Liberation Serif" font-size="8.5">5</text><text x="96.50" y="136.20" font-family="Liberation Serif" font-size="13.7" textLength="8.6" lengthAdjust="spacingAndGlyphs">Π</text><path d="M99.50,126.60 Q101.10,124.00 102.70,126.60" stroke="#000" stroke-width="1.0" fill="none"/><text x="105.80" y="140.20" font-family="Liberation Serif" font-size="8.5">3</text><text x="106.20" y="131.50" font-family="Liberation Serif" font-size="8.5">10</text><text x="59.6" y="182.0" font-family="Liberation Sans" font-size="11.2" textLength="32.3" lengthAdjust="spacingAndGlyphs">PNRD</text><text x="96.0" y="182.0" font-family="Liberation Serif" font-size="12.4">|3</text><path d="M104.9,173.6 L108.0,178.9 L104.9,184.3" stroke="#222" stroke-width="0.75" fill="none"/><path d="M113.8,173.6 L110.7,178.9 L113.8,184.3" stroke="#222" stroke-width="0.75" fill="none"/><text x="114.6" y="182.0" font-family="Liberation Serif" font-size="12.4">3|</text><text transform="translate(179.4,51.2) rotate(-53)" font-family="Liberation Sans" font-size="12.4" text-anchor="middle" textLength="50" lengthAdjust="spacingAndGlyphs">APD click</text><text x="663.60" y="121.55" font-family="Liberation Serif" font-size="12.4">|2</text><path transform="translate(677.20,115.55) scale(1.3)" d="M0,-3.2 L0.75,-1.0 L3.05,-1.0 L1.2,0.4 L1.9,2.6 L0,1.25 L-1.9,2.6 L-1.2,0.4 L-3.05,-1.0 L-0.75,-1.0 Z" fill="#000"/><path d="M682.20,113.15 L685.00,118.55 L682.20,123.95" stroke="#000" stroke-width="0.8" fill="none"/><text x="663.60" y="172.30" font-family="Liberation Serif" font-size="12.4">|3</text><path transform="translate(677.20,166.30) scale(1.3)" d="M0,-3.2 L0.75,-1.0 L3.05,-1.0 L1.2,0.4 L1.9,2.6 L0,1.25 L-1.9,2.6 L-1.2,0.4 L-3.05,-1.0 L-0.75,-1.0 Z" fill="#000"/><path d="M682.20,163.90 L685.00,169.30 L682.20,174.70" stroke="#000" stroke-width="0.8" fill="none"/><text x="663.60" y="202.10" font-family="Liberation Serif" font-size="12.4">|4</text><path transform="translate(677.20,196.10) scale(1.3)" d="M0,-3.2 L0.75,-1.0 L3.05,-1.0 L1.2,0.4 L1.9,2.6 L0,1.25 L-1.9,2.6 L-1.2,0.4 L-3.05,-1.0 L-0.75,-1.0 Z" fill="#000"/><path d="M682.20,193.70 L685.00,199.10 L682.20,204.50" stroke="#000" stroke-width="0.8" fill="none"/></svg>
</body></html>
